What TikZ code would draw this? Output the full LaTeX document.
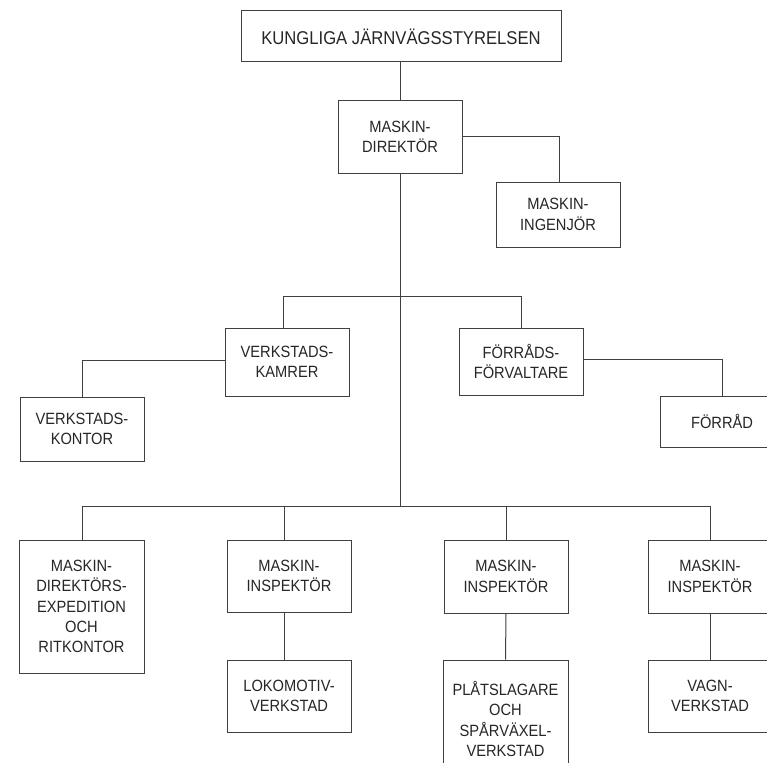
\documentclass[tikz,border=0pt]{standalone}
\usepackage{fontspec}
\setmainfont{Liberation Sans}[FakeStretch=0.9]
\begin{document}
\begin{tikzpicture}[x=1pt,y=-1pt,
  line width=1pt,
  box/.style={draw=black!75,fill=white,text=black!85,inner sep=0pt,align=center,
    minimum width=124pt,font=\fontsize{16.3}{20.4}\selectfont},
  conn/.style={draw=black!75}]
\useasboundingbox (0,0) rectangle (767,762);
\clip (0,0) rectangle (767,762);
\node[box,minimum width=320pt,minimum height=51pt,font=\fontsize{18.5}{22}\selectfont] (top) at (401,36.5) {KUNGLIGA JÄRNVÄGSSTYRELSEN};
\node[box,minimum height=72pt] (md) at (400,137) {MASKIN-\\DIREKTÖR};
\node[box,minimum height=65pt] (ming) at (558,214.5) {MASKIN-\\INGENJÖR};
\node[box,minimum height=68pt] (vk) at (287,362) {VERKSTADS-\\KAMRER};
\node[box,minimum height=67pt] (ff) at (521,361.5) {FÖRRÅDS-\\FÖRVALTARE};
\node[box,minimum height=64pt] (vkontor) at (82,429) {VERKSTADS-\\KONTOR};
\node[box,minimum height=51pt] (forrad) at (722,421.5) {FÖRRÅD};
\node[box,minimum width=125pt,minimum height=133pt] (mdexp) at (81.5,606.5) {MASKIN-\\DIREKTÖRS-\\EXPEDITION\\OCH\\RITKONTOR};
\node[box,minimum height=72pt] (mi1) at (289,576) {MASKIN-\\INSPEKTÖR};
\node[box,minimum height=73pt] (mi2) at (506,576.5) {MASKIN-\\INSPEKTÖR};
\node[box,minimum height=73pt] (mi3) at (710,576.5) {MASKIN-\\INSPEKTÖR};
\node[box,minimum height=72pt] (lok) at (289,696) {LOKOMOTIV-\\VERKSTAD};
\node[box,minimum width=125pt,minimum height=118pt] (plat) at (505.5,719) {PLÅTSLAGARE\\OCH\\SPÅRVÄXEL-\\VERKSTAD};
\node[box,minimum height=72pt] (vagn) at (710,696) {VAGN-\\VERKSTAD};
\coordinate (j1) at (400.7,296.7);
\coordinate (j2) at (400.7,506.7);
% connectors
\draw[conn] (top.south -| j1) -- (md.north -| j1);
\draw[conn] (md.south -| j1) -- (j2);
\draw[conn] (md.east) -- (md.east -| 559,0) -- (ming.north -| 559,0);
\draw[conn] ([xshift=-4pt]vk.north) |- (j1) -| (ff.north);
\draw[conn] ([yshift=2pt]vk.west) -| (vkontor.north);
\draw[conn] ([yshift=2.5pt]ff.east) -| (forrad.north);
\draw[conn] ([xshift=0.5pt]mdexp.north) |- (j2) -| (mi3.north);
\draw[conn] ([xshift=-5pt]mi1.north) |- (j2);
\draw[conn] (mi2.north) |- (j2);
\draw[conn] ([xshift=-4.5pt]mi1.south) -- ([xshift=-4.5pt]lok.north);
\draw[conn] (mi2.south) -- (plat.north);
\draw[conn] (mi3.south) -- (vagn.north);
\end{tikzpicture}
\end{document}
